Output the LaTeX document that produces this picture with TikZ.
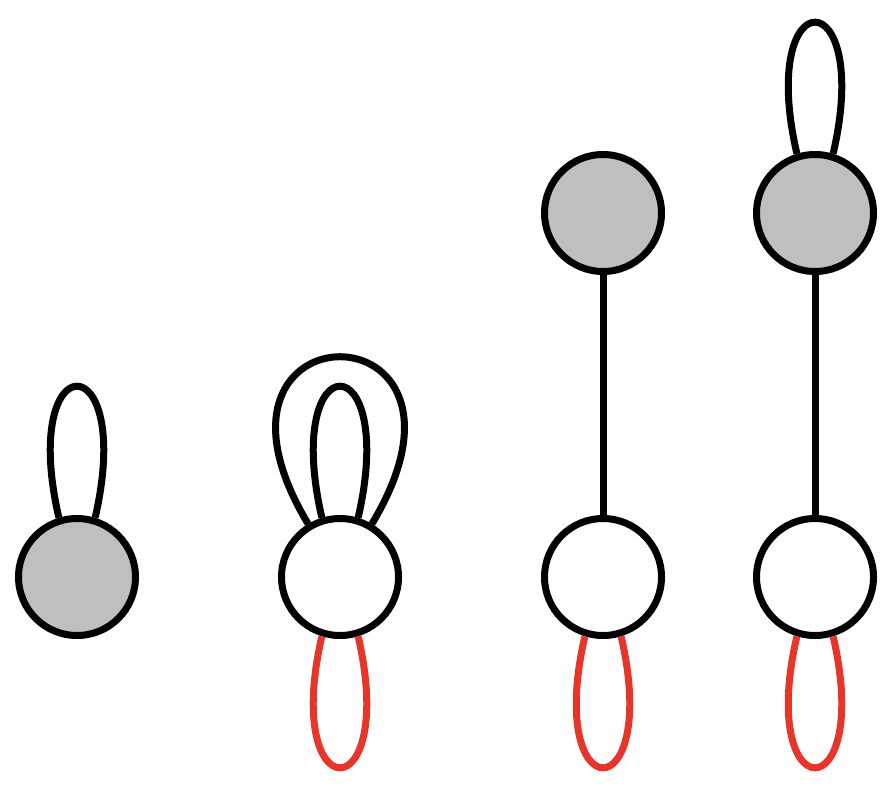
\documentclass[tikz,border=0pt]{standalone}
\usepackage{tikz}
\usepackage{xcolor}
\definecolor{vgrey}{HTML}{BFBFBF}
\definecolor{loopred}{HTML}{E8352A}

\begin{document}
\begin{tikzpicture}[
    vtx/.style={circle, draw=black, line width=0.14cm,
                minimum size=2.34cm, inner sep=0pt},
    full/.style={vtx, fill=vgrey},
    empty/.style={vtx, fill=white},
    edge/.style={line width=0.14cm, black},
    redge/.style={edge, loopred},
]
  \useasboundingbox (0,0) rectangle (17.88,15.72);

  \node[full]  (a)  at ( 1.54,  4.18) {};
  \node[empty] (b)  at ( 6.80,  4.18) {};
  \node[full]  (c1) at (12.06, 11.46) {};
  \node[empty] (c2) at (12.06,  4.18) {};
  \node[full]  (d1) at (16.30, 11.46) {};
  \node[empty] (d2) at (16.30,  4.18) {};

  % edges
  \draw[edge] (c1) -- (c2);
  \draw[edge] (d1) -- (d2);

  % black loops
  \draw[edge] (a.107)  .. controls +(103:3.6) and +(77:3.6) .. (a.73);
  \draw[edge] (b.107)  .. controls +(103:3.6) and +(77:3.6) .. (b.73);
  \draw[edge] (b.121)  .. controls +(121:5.2) and +(59:5.2) .. (b.59);
  \draw[edge] (d1.107) .. controls +(103:3.6) and +(77:3.6) .. (d1.73);

  % red loops
  \draw[redge] (b.-107)  .. controls +(-103:3.6) and +(-77:3.6) .. (b.-73);
  \draw[redge] (c2.-107) .. controls +(-103:3.6) and +(-77:3.6) .. (c2.-73);
  \draw[redge] (d2.-107) .. controls +(-103:3.6) and +(-77:3.6) .. (d2.-73);

\end{tikzpicture}
\end{document}
